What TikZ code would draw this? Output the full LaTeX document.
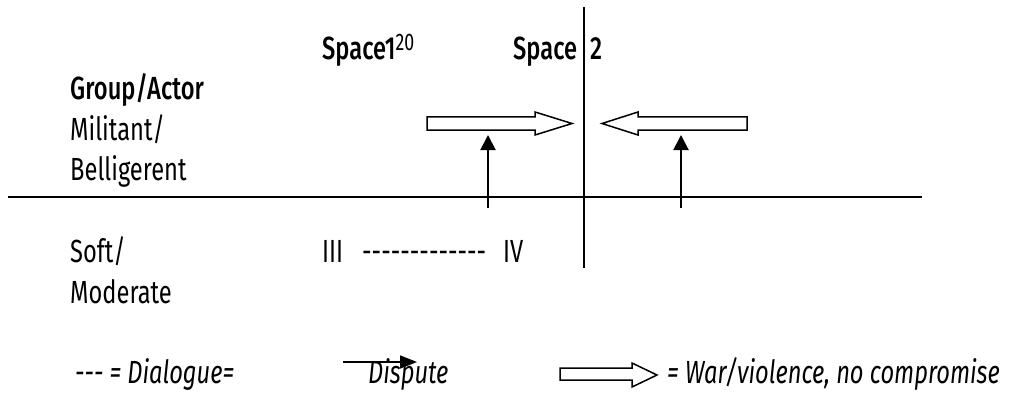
\documentclass[tikz,border=0pt]{standalone}
\usepackage{fontspec}
\setmainfont{Fira Sans}[FakeStretch=0.74,BoldFont={Fira Sans Medium}]
\usetikzlibrary{arrows.meta}
\begin{document}
\begin{tikzpicture}[x=1pt,y=-1pt,
  lbl/.style={anchor=base west,inner sep=0pt,font=\fontsize{32}{34}\selectfont},
  hd/.style={lbl,font=\fontsize{32}{34}\selectfont\bfseries},
  leg/.style={lbl,font=\fontsize{32}{34}\selectfont\itshape},
  axis/.style={line width=2pt},
  fat/.style={draw,line width=1.5pt,fill=white,line join=miter},
  thin/.style={line width=2pt,-{Triangle[width=15pt,length=15pt]}}]
\useasboundingbox (0,0) rectangle (1027,393);
% axes
\coordinate (vt) at (584,7);
\coordinate (vb) at (584,268);
\coordinate (hl) at (8,197);
\coordinate (hr) at (922,197);
% headings
\node[hd] (sp1) at (322,60) {Space1\textsuperscript{\mdseries\fontsize{24}{24}\selectfont 20}};
\node[hd] (sp2) at (513,60) {Space\hspace{13pt}2};
\draw[axis] (vt) -- (vb);
\draw[axis] (hl) -- (hr);
\node[hd] (grp) at (70,100) {Group/Actor};
\node[lbl] (mil) at (70,140) {Militant/};
\node[lbl] (bel) at (70,180) {Belligerent};
\node[lbl] (soft) at (70,262) {Soft/};
\node[lbl] (mod) at (70,303) {Moderate};
\node[lbl] (q3) at (322,262) {III};
\node[lbl] (dash) at (362,262) {-{}-{}-{}-{}-{}-{}-{}-{}-{}-{}-{}-{}-};
\node[lbl] (q4) at (503,262) {IV};
% fat arrows
\draw[fat] (427,117) -- (535,117) -- (535,112) -- (572,123.5) -- (535,135) -- (535,130) -- (427,130) -- cycle;
\draw[fat] (747,117) -- (638,117) -- (638,112) -- (602,123.5) -- (638,135) -- (638,130) -- (747,130) -- cycle;
% dispute arrows
\coordinate (a1s) at (488,208);
\coordinate (a1e) at (488,135);
\coordinate (a2s) at (681,208);
\coordinate (a2e) at (681,135);
\draw[thin] (a1s) -- (a1e);
\draw[thin] (a2s) -- (a2e);
% legend
\node[leg] (ld) at (75,383) {-{}-{}- = Dialogue=};
\coordinate (dps) at (343,362);
\coordinate (dpe) at (417,362);
\draw[line width=1.5pt,-{Triangle[width=13pt,length=17pt]}] (dps) -- (dpe);
\node[leg] (ldp) at (368,383) {Dispute};
\draw[fat] (560,368) -- (632,368) -- (632,363) -- (657,375) -- (632,387) -- (632,380) -- (560,380) -- cycle;
\node[leg] (lw) at (667,383) {= War/violence, no compromise};
\end{tikzpicture}
\end{document}
